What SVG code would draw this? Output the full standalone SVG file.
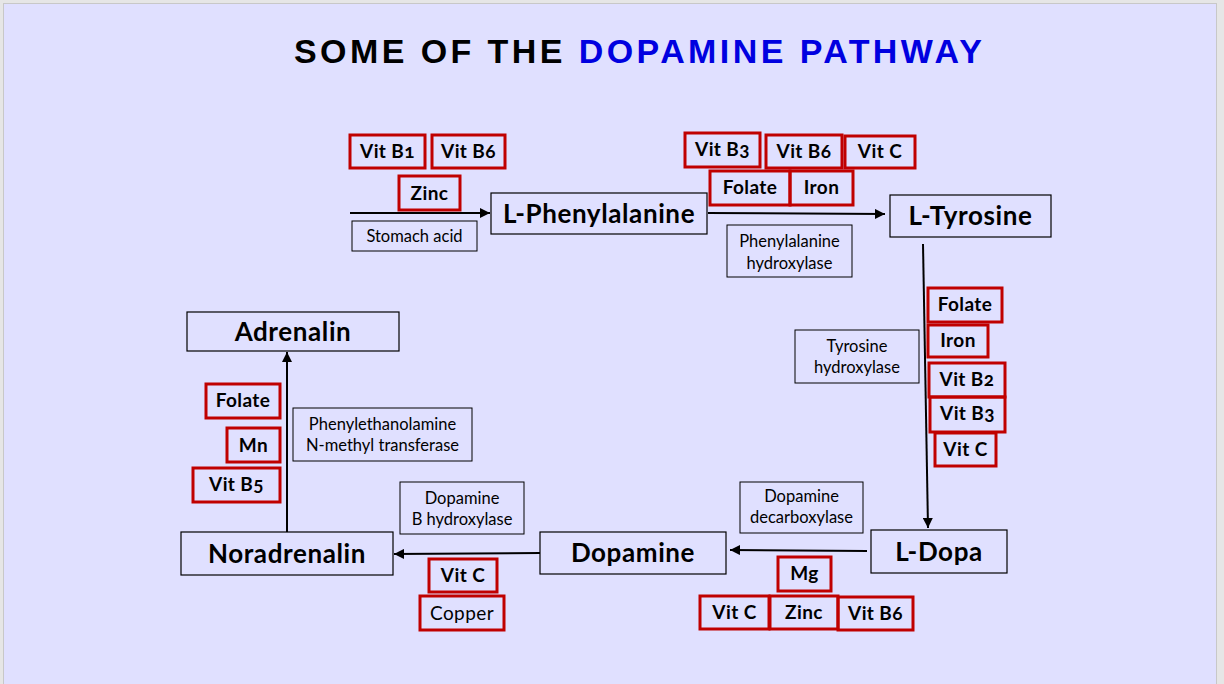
<svg xmlns="http://www.w3.org/2000/svg" width="1224" height="684" viewBox="0 0 1224 684">
<defs>
<marker id="ah" viewBox="0 0 10 10" refX="10" refY="5" markerWidth="10" markerHeight="10" markerUnits="userSpaceOnUse" orient="auto">
<path d="M0,0 L10,5 L0,10 Z" fill="#000"/>
</marker>
<style>
.node rect{fill:none;stroke:#000;stroke-width:1.2}
.node text{font-family:Lato,"Open Sans","DejaVu Sans",sans-serif;font-weight:bold;font-size:26px;letter-spacing:0.6px;fill:#000;text-anchor:middle}
.cof rect{fill:none;stroke:#c00000;stroke-width:3}
.cof text{font-family:Lato,"Open Sans","DejaVu Sans",sans-serif;font-weight:bold;font-size:19px;letter-spacing:0.4px;fill:#000;text-anchor:middle;font-feature-settings:"onum" 1}
.enz rect{fill:none;stroke:#000;stroke-width:1}
.enz text{font-family:Lato,"Open Sans","DejaVu Sans",sans-serif;font-size:16.5px;fill:#000;text-anchor:middle}
.cof text.reg{font-weight:normal}
.conn line{stroke:#000;stroke-width:2;marker-end:url(#ah)}
</style>
</defs>
<rect x="0" y="0" width="1224" height="684" fill="#e6e6e6"/>
<rect x="3.5" y="3.5" width="1213" height="690" fill="#e0e0ff" stroke="#c8c8c8" stroke-width="1"/>
<text x="638" y="63" text-anchor="middle" font-family="'Liberation Sans',Arial,sans-serif" font-weight="bold" font-size="34" textLength="688" lengthAdjust="spacing"><tspan fill="#000">SOME OF THE </tspan><tspan fill="#0000e0">DOPAMINE PATHWAY</tspan></text>

<g id="connectors" class="conn">
<line x1="350" y1="213" x2="490" y2="213"/>
<line x1="708" y1="213" x2="885" y2="214"/>
<line x1="923" y1="244" x2="928" y2="528"/>
<line x1="867" y1="551" x2="730" y2="550"/>
<line x1="540" y1="553" x2="394" y2="554"/>
<line x1="287" y1="532" x2="287" y2="352"/>
</g>

<g id="n-phe" class="node"><rect x="491" y="193" width="216" height="41"/><text x="599" y="223">L-Phenylalanine</text></g>
<g id="n-tyr" class="node"><rect x="890" y="195" width="161" height="42"/><text x="970.5" y="225">L-Tyrosine</text></g>
<g id="n-dopa" class="node"><rect x="871" y="530" width="136" height="43"/><text x="939" y="561">L-Dopa</text></g>
<g id="n-dopamine" class="node"><rect x="540" y="532" width="186" height="42"/><text x="633" y="562">Dopamine</text></g>
<g id="n-nor" class="node"><rect x="181" y="532" width="212" height="43"/><text x="287" y="563">Noradrenalin</text></g>
<g id="n-adr" class="node"><rect x="187" y="312" width="212" height="39"/><text x="293" y="341">Adrenalin</text></g>

<g id="e-stomach" class="enz"><rect x="352" y="221" width="125" height="30"/><text x="414.5" y="242">Stomach acid</text></g>
<g id="e-phh" class="enz"><rect x="727" y="225" width="125" height="52"/><text x="789.5" y="247">Phenylalanine</text><text x="789.5" y="269">hydroxylase</text></g>
<g id="e-th" class="enz"><rect x="795" y="330" width="124" height="53"/><text x="857" y="352">Tyrosine</text><text x="857" y="373">hydroxylase</text></g>
<g id="e-ddc" class="enz"><rect x="740" y="482" width="123" height="51"/><text x="801.5" y="502">Dopamine</text><text x="801.5" y="523">decarboxylase</text></g>
<g id="e-dbh" class="enz"><rect x="400" y="482" width="124" height="52"/><text x="462" y="504">Dopamine</text><text x="462" y="525">B hydroxylase</text></g>
<g id="e-pnmt" class="enz"><rect x="293" y="408" width="179" height="53"/><text x="382.5" y="430">Phenylethanolamine</text><text x="382.5" y="451">N-methyl transferase</text></g>

<g id="c-b1" class="cof"><rect x="350" y="135" width="75" height="33"/><text x="387.5" y="158">Vit B1</text></g>
<g id="c-b6a" class="cof"><rect x="432" y="135" width="73" height="33"/><text x="468.5" y="158">Vit B6</text></g>
<g id="c-zinc1" class="cof"><rect x="399" y="176" width="61" height="34"/><text x="429.5" y="200">Zinc</text></g>
<g id="c-b3a" class="cof"><rect x="685" y="133" width="75" height="34"/><text x="722.5" y="156">Vit B3</text></g>
<g id="c-b6b" class="cof"><rect x="766" y="135" width="76" height="33"/><text x="804" y="158">Vit B6</text></g>
<g id="c-vcA" class="cof"><rect x="845" y="136" width="70" height="32"/><text x="880" y="158">Vit C</text></g>
<g id="c-fol1" class="cof"><rect x="710" y="171" width="80" height="34"/><text x="750" y="194">Folate</text></g>
<g id="c-iron1" class="cof"><rect x="790" y="171" width="63" height="34"/><text x="821.5" y="194">Iron</text></g>
<g id="c-fol2" class="cof"><rect x="928" y="288" width="74" height="34"/><text x="965" y="311">Folate</text></g>
<g id="c-iron2" class="cof"><rect x="928" y="325" width="60" height="32"/><text x="958" y="347">Iron</text></g>
<g id="c-b2" class="cof"><rect x="929" y="363" width="76" height="34"/><text x="967" y="386">Vit B2</text></g>
<g id="c-b3b" class="cof"><rect x="930" y="397" width="75" height="35"/><text x="967.5" y="420">Vit B3</text></g>
<g id="c-vcB" class="cof"><rect x="935" y="433" width="61" height="33"/><text x="965.5" y="456">Vit C</text></g>
<g id="c-mg" class="cof"><rect x="778" y="557" width="53" height="34"/><text x="804.5" y="580">Mg</text></g>
<g id="c-vcC" class="cof"><rect x="700" y="596" width="69" height="33"/><text x="734.5" y="619">Vit C</text></g>
<g id="c-zinc2" class="cof"><rect x="770" y="596" width="68" height="33"/><text x="804" y="619">Zinc</text></g>
<g id="c-b6c" class="cof"><rect x="838" y="597" width="75" height="33"/><text x="875.5" y="620">Vit B6</text></g>
<g id="c-vcD" class="cof"><rect x="429" y="559" width="68" height="33"/><text x="463" y="582">Vit C</text></g>
<g id="c-copper" class="cof"><rect x="420" y="596" width="84" height="34"/><text class="reg" x="462" y="620">Copper</text></g>
<g id="c-fol3" class="cof"><rect x="206" y="384" width="74" height="34"/><text x="243" y="407">Folate</text></g>
<g id="c-mn" class="cof"><rect x="227" y="428" width="53" height="34"/><text x="253.5" y="452">Mn</text></g>
<g id="c-b5" class="cof"><rect x="193" y="468" width="87" height="34"/><text x="236.5" y="491">Vit B5</text></g>
</svg>
